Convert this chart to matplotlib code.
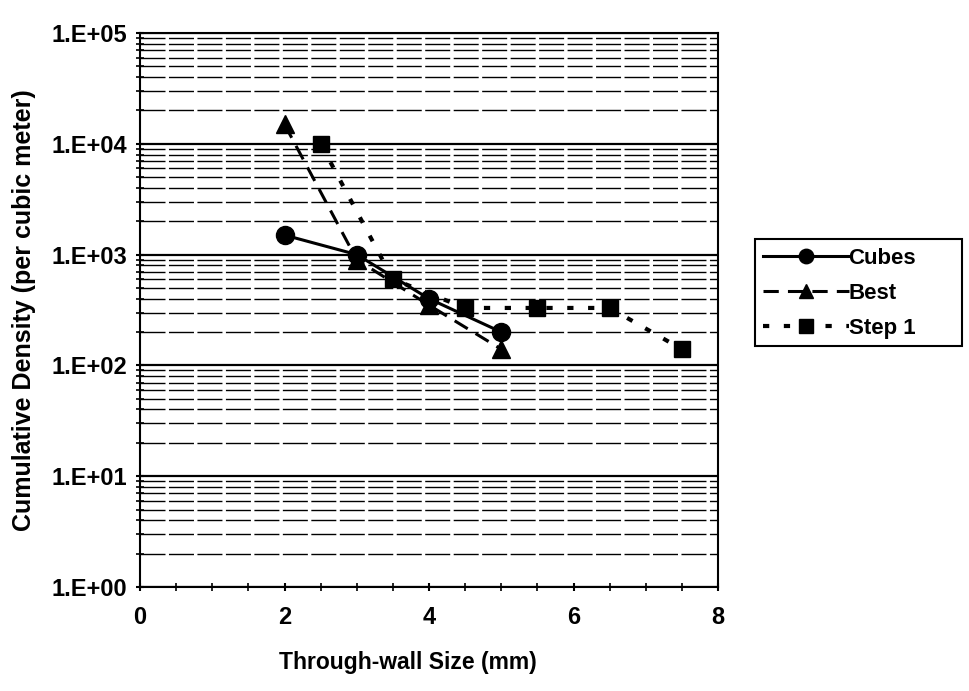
import matplotlib.pyplot as plt
from matplotlib.patches import Rectangle
from matplotlib.ticker import LogLocator, FixedLocator, MultipleLocator

plt.rcParams['font.family'] = ['Liberation Sans', 'DejaVu Sans']
plt.rcParams['font.weight'] = 'bold'

# data
cubes_x = [2, 3, 4, 5]
cubes_y = [1500, 1000, 400, 200]
best_x = [2, 3, 4, 5]
best_y = [15000, 900, 350, 140]
step1_x = [2.5, 3.5, 4.5, 5.5, 6.5, 7.5]
step1_y = [10000, 600, 330, 330, 330, 140]

ytick_vals = [1, 10, 100, 1000, 10000, 100000]
ytick_labels = ['1.E+00', '1.E+01', '1.E+02', '1.E+03', '1.E+04', '1.E+05']

W, H = 970, 691
fig = plt.figure(figsize=(W / 100, H / 100), dpi=100)
ax = fig.add_axes([140 / W, 1 - 587 / H, 578 / W, 554 / H])
ax.set_yscale('log')
ax.set_xlim(0, 8)
ax.set_ylim(1, 100000)

# grid lines, major solid, minor broken like the scan
ax.yaxis.set_major_locator(FixedLocator(ytick_vals))
ax.yaxis.set_minor_locator(LogLocator(base=10, subs=range(2, 10)))
ax.grid(True, which='major', axis='y', color='black', lw=1.6)
ax.grid(True, which='minor', axis='y', color='black', lw=1.0, ls=(0, (18, 2.5)))
ax.set_axisbelow(True)

ax.plot(cubes_x, cubes_y, color='black', lw=2.2, marker='o', ms=13, label='Cubes')
ax.plot(best_x, best_y, color='black', lw=2.2, ls=(0, (5, 3)), marker='^', ms=13, label='Best')
ax.plot(step1_x, step1_y, color='black', lw=3, ls=(0, (1.5, 3.5)), marker='s', ms=12, label='Step 1')

ax.set_yticks(ytick_vals)
ax.set_yticklabels(ytick_labels)
ax.xaxis.set_major_locator(MultipleLocator(2))
ax.xaxis.set_minor_locator(MultipleLocator(0.5))
ax.tick_params(axis='both', which='major', labelsize=17, length=6, width=1.5, direction='inout')
ax.tick_params(axis='both', which='minor', length=6, width=1.2, direction='inout')
ax.tick_params(axis='y', which='major', pad=6.5)
ax.tick_params(axis='x', which='major', pad=11)
for s in ax.spines.values():
    s.set_color('black')
    s.set_linewidth(1.5)

ax.set_xlabel('Through-wall Size (mm)', fontsize=16.5, fontweight='bold')
ax.xaxis.set_label_coords(0.463, -0.1155)
ax.set_ylabel('Cumulative Density (per cubic meter)', fontsize=18, fontweight='bold')
ax.yaxis.set_label_coords(-0.18, 0.5)

# legend without its own frame, box drawn separately
leg = fig.legend(*ax.get_legend_handles_labels(), loc='upper left',
                 bbox_to_anchor=(763 / W, 1 - 248 / H), fontsize=16,
                 frameon=False, handlelength=3.85, handletextpad=0.0,
                 borderpad=0, borderaxespad=0, labelspacing=0.62, markerscale=0.8)
fig.patches.append(Rectangle((755 / W, 1 - 346 / H), (962 - 755) / W, (346 - 239) / H,
                             transform=fig.transFigure, fill=False,
                             edgecolor='black', lw=1.5))

fig.savefig('out.png', dpi=100)
